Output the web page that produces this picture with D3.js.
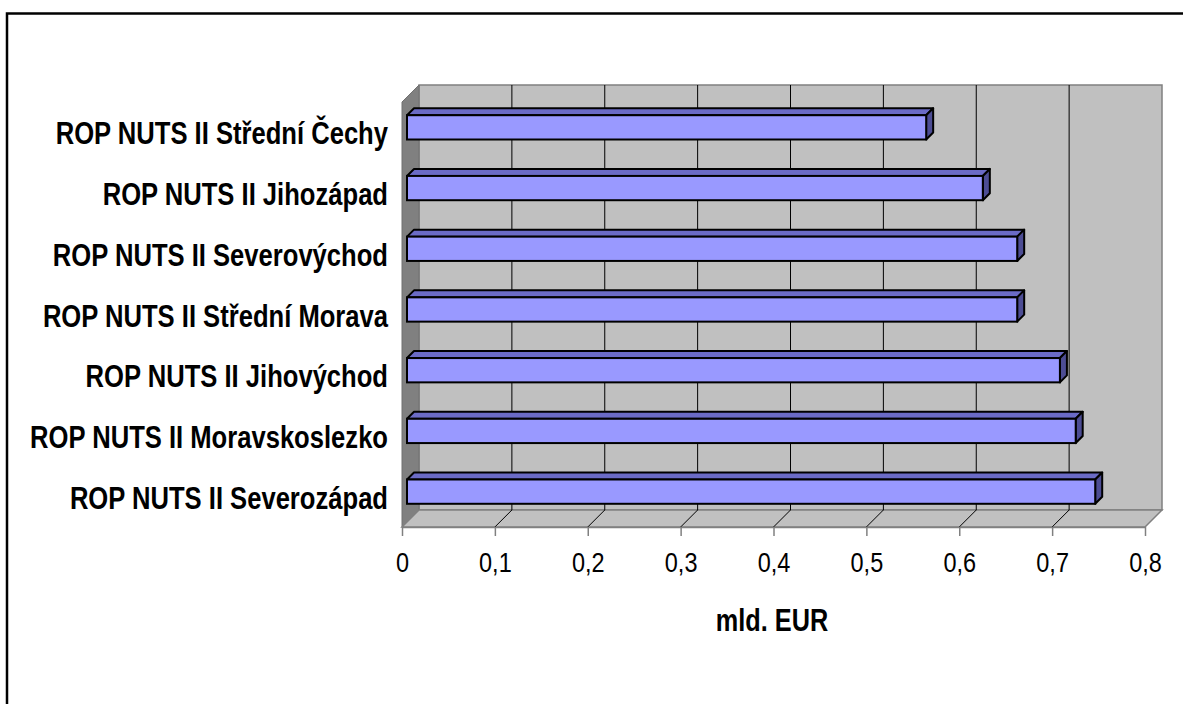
<!DOCTYPE html>
<html>
<head>
<meta charset="utf-8">
<script src="https://cdn.jsdelivr.net/npm/d3@7"></script>
<style>
html,body{margin:0;padding:0;background:#fff;}
svg{display:block;}
</style>
</head>
<body>
<svg id="chart" width="1183" height="704"></svg>
<script>
const categories = [
  "ROP NUTS II Střední Čechy",
  "ROP NUTS II Jihozápad",
  "ROP NUTS II Severovýchod",
  "ROP NUTS II Střední Morava",
  "ROP NUTS II Jihovýchod",
  "ROP NUTS II Moravskoslezko",
  "ROP NUTS II Severozápad"
];
const values = [0.559, 0.620, 0.657, 0.657, 0.703, 0.720, 0.741];
const tickValues = [0, 0.1, 0.2, 0.3, 0.4, 0.5, 0.6, 0.7, 0.8];
const tickLabels = ["0", "0,1", "0,2", "0,3", "0,4", "0,5", "0,6", "0,7", "0,8"];
const axisTitle = "mld. EUR";

const svg = d3.select("#chart");
const DEPTH = 17;        // wall depth (px offset to back)
const BAR_Z = 5;         // bar front depth
const BAR_D = 7;         // bar thickness in depth

const x = d3.scaleLinear().domain([0, 0.8]).range([402, 1145]);
const y = d3.scaleBand().domain(categories).range([102, 527]).paddingInner(0.6).paddingOuter(0.3);
const plotTop = 102, plotBottom = 527;

// outer border
svg.append("rect").attr("x", 7).attr("y", 13.5).attr("width", 1200).attr("height", 720)
  .attr("fill", "none").attr("stroke", "#000").attr("stroke-width", 2.5);

const g = svg.append("g");

// back wall
g.append("rect")
  .attr("x", x(0) + DEPTH).attr("y", plotTop - DEPTH)
  .attr("width", x(0.8) - x(0)).attr("height", plotBottom - plotTop)
  .attr("fill", "#c0c0c0").attr("stroke", "#808080").attr("stroke-width", 1.5);

// side wall
g.append("path")
  .attr("d", `M${x(0)},${plotTop} L${x(0)+DEPTH},${plotTop-DEPTH} L${x(0)+DEPTH},${plotBottom-DEPTH} L${x(0)},${plotBottom} Z`)
  .attr("fill", "#808080").attr("stroke", "#707070").attr("stroke-width", 1);

// floor
g.append("path")
  .attr("d", `M${x(0)},${plotBottom} L${x(0)+DEPTH},${plotBottom-DEPTH} L${x(0.8)+DEPTH},${plotBottom-DEPTH} L${x(0.8)},${plotBottom} Z`)
  .attr("fill", "#c0c0c0").attr("stroke", "#808080").attr("stroke-width", 1.5);

// gridlines on back wall and floor
const gridTicks = tickValues.filter(v => v > 0 && v < 0.8);
g.selectAll("line.grid").data(gridTicks).join("line").attr("class", "grid")
  .attr("x1", d => x(d) + DEPTH).attr("x2", d => x(d) + DEPTH)
  .attr("y1", plotTop - DEPTH).attr("y2", plotBottom - DEPTH)
  .attr("stroke", "#000").attr("stroke-width", 1);
g.selectAll("line.fgrid").data(gridTicks).join("line").attr("class", "fgrid")
  .attr("x1", d => x(d)).attr("x2", d => x(d) + DEPTH)
  .attr("y1", plotBottom).attr("y2", plotBottom - DEPTH)
  .attr("stroke", "#000").attr("stroke-width", 1);

// axis at front floor edge
const axis = d3.axisBottom(x).tickValues(tickValues).tickFormat((d, i) => tickLabels[i]).tickSize(9).tickSizeOuter(0);
const ax = svg.append("g").attr("transform", `translate(0,${plotBottom})`).call(axis);
ax.select(".domain").attr("stroke", "#808080").attr("stroke-width", 1.5);
ax.selectAll(".tick line").attr("stroke", "#808080").attr("stroke-width", 1.5);
ax.selectAll(".tick text").attr("font-family", "Liberation Sans, Arial, sans-serif")
  .attr("font-size", 28).attr("fill", "#000").attr("dy", 0).attr("y", 45)
  .attr("transform", "scale(0.84,1)");

// bars (3D)
const bars = g.selectAll("g.bar").data(categories).join("g").attr("class", "bar");
bars.each(function(c, i) {
  const sel = d3.select(this);
  const x0 = x(0) + BAR_Z, x1 = x(values[i]) + BAR_Z;
  const y0 = y(c) - BAR_Z, y1 = y0 + y.bandwidth();
  // top face
  sel.append("path")
    .attr("d", `M${x0},${y0} L${x0+BAR_D},${y0-BAR_D} L${x1+BAR_D},${y0-BAR_D} L${x1},${y0} Z`)
    .attr("fill", "#6b6bc6").attr("stroke", "#000").attr("stroke-width", 2).attr("stroke-linejoin", "round");
  // right side face
  sel.append("path")
    .attr("d", `M${x1},${y0} L${x1+BAR_D},${y0-BAR_D} L${x1+BAR_D},${y1-BAR_D} L${x1},${y1} Z`)
    .attr("fill", "#4d4d94").attr("stroke", "#000").attr("stroke-width", 2).attr("stroke-linejoin", "round");
  // front face
  sel.append("rect")
    .attr("x", x0).attr("y", y0).attr("width", x1 - x0).attr("height", y1 - y0)
    .attr("fill", "#9999ff").attr("stroke", "#000").attr("stroke-width", 2);
});

// category labels (condensed bold)
svg.selectAll("text.cat").data(categories).join("text").attr("class", "cat")
  .attr("transform", d => `translate(388,${y(d) + y.bandwidth() / 2 + 12}) scale(0.8,1)`)
  .attr("text-anchor", "end")
  .attr("font-family", "Liberation Sans, Arial, sans-serif")
  .attr("font-weight", "bold").attr("font-size", 32)
  .text(d => d);

// axis title
svg.append("text")
  .attr("transform", `translate(772,631) scale(0.79,1)`)
  .attr("text-anchor", "middle")
  .attr("font-family", "Liberation Sans, Arial, sans-serif")
  .attr("font-weight", "bold").attr("font-size", 32)
  .text(axisTitle);
</script>
</body>
</html>
